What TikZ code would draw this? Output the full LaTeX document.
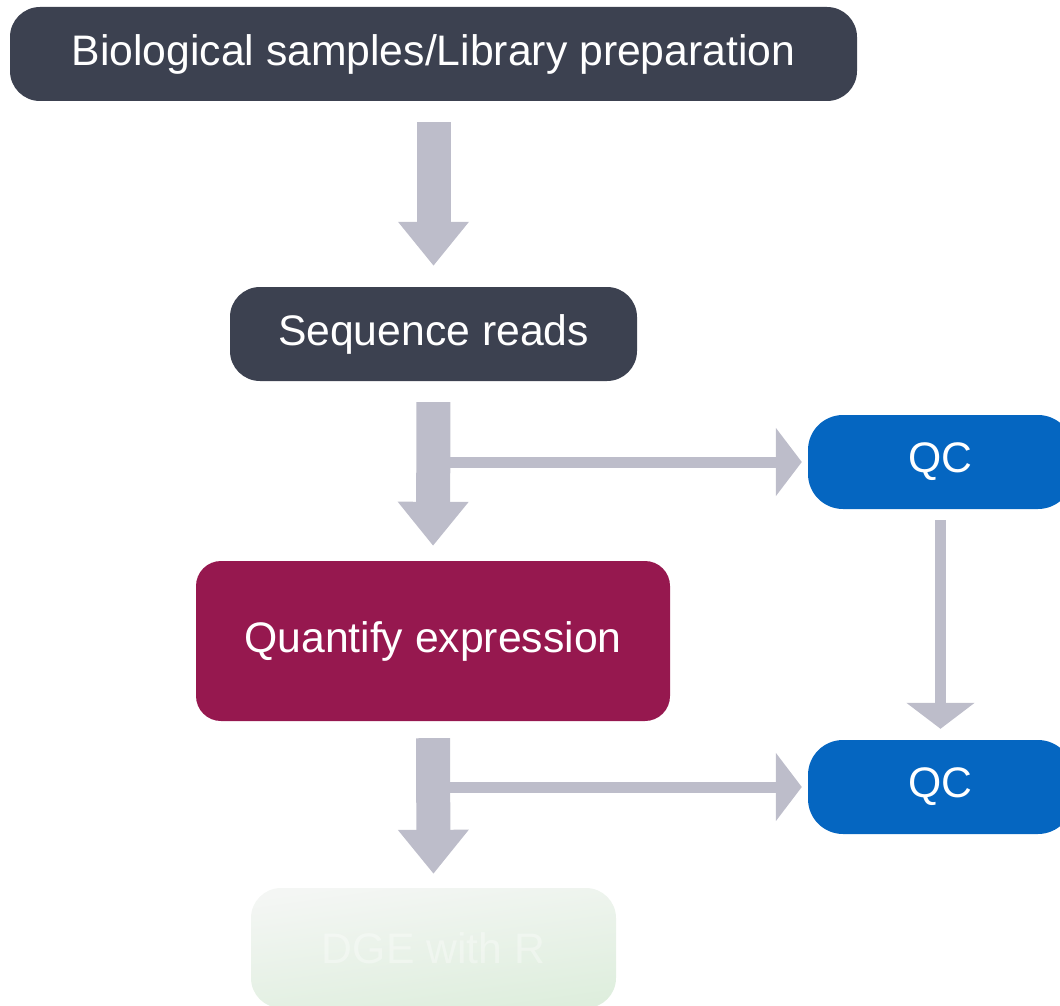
\documentclass[tikz,border=0pt]{standalone}
\usepackage{fontspec}
\setmainfont{Liberation Sans}
\usetikzlibrary{arrows.meta}

\definecolor{slate}{HTML}{3C4150}
\definecolor{berry}{HTML}{96184F}
\definecolor{qcblue}{HTML}{0566C1}
\definecolor{flowgray}{HTML}{BDBDCA}
\definecolor{mintTop}{HTML}{F4F6F4}
\definecolor{mintBot}{HTML}{DEEEDD}

\tikzset{
  stage/.style={rectangle, rounded corners=30pt, text=white, inner sep=0pt,
    font=\fontsize{42.7pt}{50pt}\selectfont},
  bigflow/.style={draw=flowgray, line width=34pt,
    -{Triangle[width=68pt,length=44pt]}},
  sideflow/.style={draw=flowgray, line width=11pt,
    -{Triangle[width=67pt,length=26pt]}},
}

\begin{document}
\begin{tikzpicture}[x=1pt,y=-1pt]
  \useasboundingbox (0,0) rectangle (1060,1006);
  \clip (0,0) rectangle (1060,1006);

  % pipeline stages
  \node[stage, fill=slate, minimum width=847pt, minimum height=94pt] (libprep) at (433.5,54) {Biological samples/Library preparation};
  \node[stage, fill=slate, minimum width=407pt, minimum height=94pt] (reads) at (433.5,334) {Sequence reads};
  \node[stage, fill=berry, rounded corners=25pt, minimum width=474pt, minimum height=160pt] (quant) at (433,641) {Quantify expression};
  \node[stage, top color=mintTop, bottom color=mintBot, shading angle=8, text opacity=0.35, minimum width=365pt, minimum height=120pt] (dge) at (433.5,948) {DGE with R};

  % quality control checkpoints
  \node[stage, fill=qcblue, rounded corners=35pt, minimum width=265pt, minimum height=94pt] (qcreads) at (940.5,462) {QC};
  \node[stage, fill=qcblue, rounded corners=35pt, minimum width=265pt, minimum height=94pt] (qcquant) at (940.5,787) {QC};

  % branch points on the main flow
  \coordinate (split1) at (reads.south |- qcreads.west);
  \coordinate (split2) at (quant.south |- qcquant.west);

  % side branches to QC
  \draw[sideflow, shorten >=6pt] (split1) -- (qcreads.west);
  \draw[sideflow, shorten >=6pt] (split2) -- (qcquant.west);
  \draw[sideflow, shorten <=11pt, shorten >=11pt] (qcreads.south) -- (qcquant.north);

  % main flow
  \draw[bigflow, shorten <=21pt, shorten >=21pt] (libprep.south) -- (reads.north);
  \draw[bigflow, shorten <=21pt, shorten >=15pt] (reads.south) -- (quant.north);
  \draw[bigflow, shorten <=17pt, shorten >=14pt] (quant.south) -- (dge.north);
\end{tikzpicture}
\end{document}
